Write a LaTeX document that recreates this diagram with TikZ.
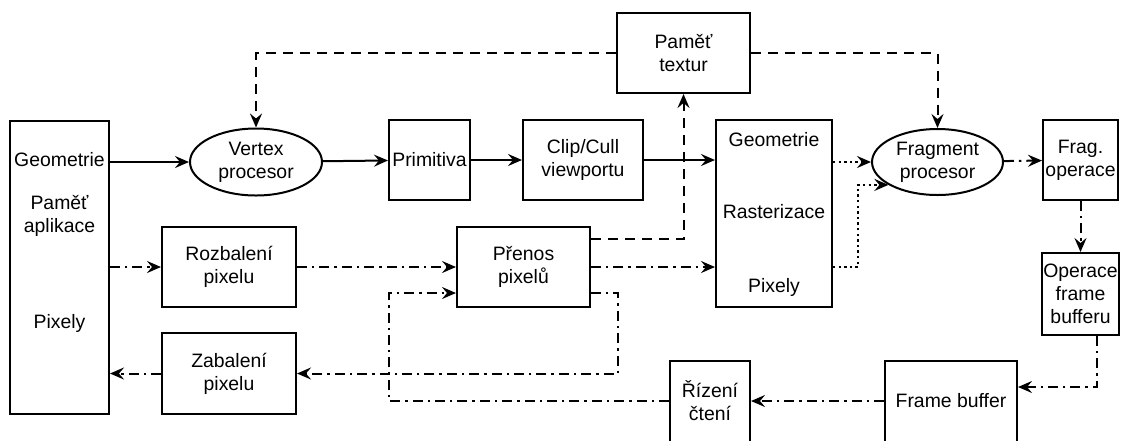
\documentclass[tikz,border=0pt]{standalone}
\usepackage{fontspec}
\setmainfont{Liberation Sans}
\usepackage{tikz}
\usetikzlibrary{arrows.meta,positioning,calc,shapes.geometric}
\tikzset{
  >={Stealth[length=7pt,width=6pt,inset=2.5pt]},
  box/.style   ={draw,line width=1pt,align=center,inner sep=0.5pt,
                 font=\fontsize{9.7}{11.5}\selectfont},
  ebox/.style  ={box,ellipse},
  lbl/.style   ={font=\fontsize{9.7}{11.5}\selectfont,inner sep=0pt,align=center},
  ar/.style    ={->,line width=1pt},
  ard/.style   ={ar,dash pattern=on 5pt off 3.5pt},
  ardd/.style  ={ar,dash pattern=on 5pt off 2.5pt on 1.2pt off 2.5pt},
  ardt/.style  ={ar,dash pattern=on 1.2pt off 1.6pt},
}
\begin{document}
\begin{tikzpicture}[x=0.5pt,y=-0.5pt]
\useasboundingbox (0,0) rectangle (1128,440);
% levy blok
\node[box,minimum width=49.5pt,minimum height=146.5pt] (app) at (59.5,267.5) {};
\node[lbl] (appGeo) at (59.5,160) {Geometrie};
\node[lbl] (appMem) at (59.5,216) {Paměť\\aplikace};
\node[lbl] (appPix) at (59.5,323) {Pixely};
% horni rada
\node[ebox,minimum width=66pt,minimum height=33.5pt] (vertex) at (256,162) {Vertex\\procesor};
\node[box,minimum width=40.5pt,minimum height=40pt] (prim) at (429.5,160) {Primitiva};
\node[box,minimum width=60pt,minimum height=40pt] (clip) at (583,160) {Clip/Cull\\viewportu};
\node[box,minimum width=66.5pt,minimum height=40pt] (tex) at (683.5,53) {Paměť\\textur};
% rasterizace
\node[box,minimum width=58pt,minimum height=93.5pt] (rast) at (774,213.5) {};
\node[lbl] (rastGeo) at (774,140) {Geometrie};
\node[lbl] (rastRas) at (774,212) {Rasterizace};
\node[lbl] (rastPix) at (774,287) {Pixely};
\node[ebox,minimum width=65.5pt,minimum height=33pt] (frag) at (937.5,162) {Fragment\\procesor};
\node[box,minimum width=37.5pt,minimum height=40pt] (fop) at (1080.5,160) {Frag.\\operace};
\node[box,minimum width=37.5pt,minimum height=41pt] (fbop) at (1080.5,294) {Operace\\frame\\bufferu};
% spodni rada (presahuje dolni okraj)
\node[box,minimum width=66pt,minimum height=55pt] (fbuf) at (951,416) {};
\node[lbl] (fbufTxt) at (951,401) {Frame buffer};
\node[box,minimum width=40pt,minimum height=55pt] (rizeni) at (710,416) {};
\node[lbl] (rizeniTxt) at (710,401) {Řízení\\čtení};
% pixely
\node[box,minimum width=67pt,minimum height=40pt] (unpack) at (229,267) {Rozbalení\\pixelu};
\node[box,minimum width=67pt,minimum height=40.5pt] (pack) at (229,373.5) {Zabalení\\pixelu};
\node[box,minimum width=66.5pt,minimum height=40pt] (xfer) at (523.5,267) {Přenos\\pixelů};

% geometrie
\draw[ar] (app.east |- vertex) -- (vertex);
\draw[ar] (vertex) -- (prim);
\draw[ar] (prim) -- (clip);
\draw[ar] (clip) -- (rast.west |- clip);
% textury
\draw[ard] (tex.west) -| (vertex.north);
\draw[ard] (tex.east) -| (frag.north);
\draw[ard] ($(xfer.north east)+(0,13)$) -| (tex.south);
% pixely
\draw[ardd] (app.east |- unpack) -- (unpack);
\draw[ardd] (unpack) -- (xfer);
\draw[ardd] (xfer) -- (rast.west |- xfer);
\draw[ardd] ($(xfer.east)+(0,26)$) -- ++(27,0) |- (pack.east);
\draw[ardd] (pack) -- (app.east |- pack);
\draw[ardd] (rizeni.west |- rizeniTxt) -| (389,293) -- ($(xfer.west)+(0,26)$);
% fragmenty
\draw[ardt] (rast.east |- frag) -- (frag.west);
\draw[ardt] ($(rast.east)+(0,53.5)$) -- ++(25,0) |- (frag.205);
\draw[ardd] (frag) -- (fop);
\draw[ardd] (fop) -- (fbop);
\draw[ardd] ($(fbop.south)+(16,0)$) |- ($(fbuf.north east)+(0,27)$);
\draw[ardd] (fbuf.west |- fbufTxt) -- (rizeni.east |- fbufTxt);
\end{tikzpicture}
\end{document}
